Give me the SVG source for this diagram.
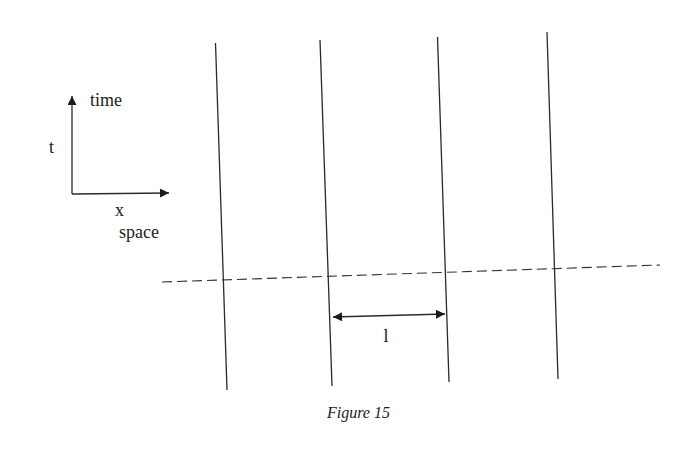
<svg xmlns="http://www.w3.org/2000/svg" width="689" height="457" viewBox="0 0 689 457">
<defs>
<style>
.ln{stroke:#2a2a2a;stroke-width:1.3;fill:none}
.dash{stroke:#333;stroke-width:1.1;fill:none;stroke-dasharray:10 5}
.t{font-family:"Liberation Serif",serif;fill:#222}
</style>
<marker id="ah" viewBox="0 0 10 10" refX="10" refY="5" markerWidth="15" markerHeight="9" markerUnits="userSpaceOnUse" orient="auto-start-reverse">
<path d="M0,0 L10,5 L0,10 z" fill="#1a1a1a"/>
</marker>
</defs>
<rect width="689" height="457" fill="#ffffff"/>
<g id="axes">
<line class="ln" x1="72" y1="194" x2="72" y2="96" marker-end="url(#ah)"/>
<line class="ln" x1="72" y1="194" x2="169" y2="193" marker-end="url(#ah)"/>
<text class="t" x="90" y="106" font-size="18">time</text>
<text class="t" x="49" y="153" font-size="18">t</text>
<text class="t" x="115" y="216" font-size="18">x</text>
<text class="t" x="119" y="238" font-size="18">space</text>
</g>
<g id="worldlines">
<line class="ln" x1="215.5" y1="43" x2="227" y2="390"/>
<line class="ln" x1="320" y1="40" x2="332" y2="386"/>
<line class="ln" x1="437.5" y1="37" x2="449" y2="382"/>
<line class="ln" x1="547" y1="32" x2="558" y2="379"/>
</g>
<g id="connectors">
<line class="dash" x1="162" y1="282" x2="660" y2="265"/>
<line class="ln" x1="333" y1="317" x2="445" y2="314" marker-start="url(#ah)" marker-end="url(#ah)"/>
</g>
<g id="labels">
<text class="t" x="386" y="342" font-size="18" text-anchor="middle">l</text>
<text class="t" x="327" y="418" font-size="16" font-style="italic">Figure 15</text>
</g>
</svg>
